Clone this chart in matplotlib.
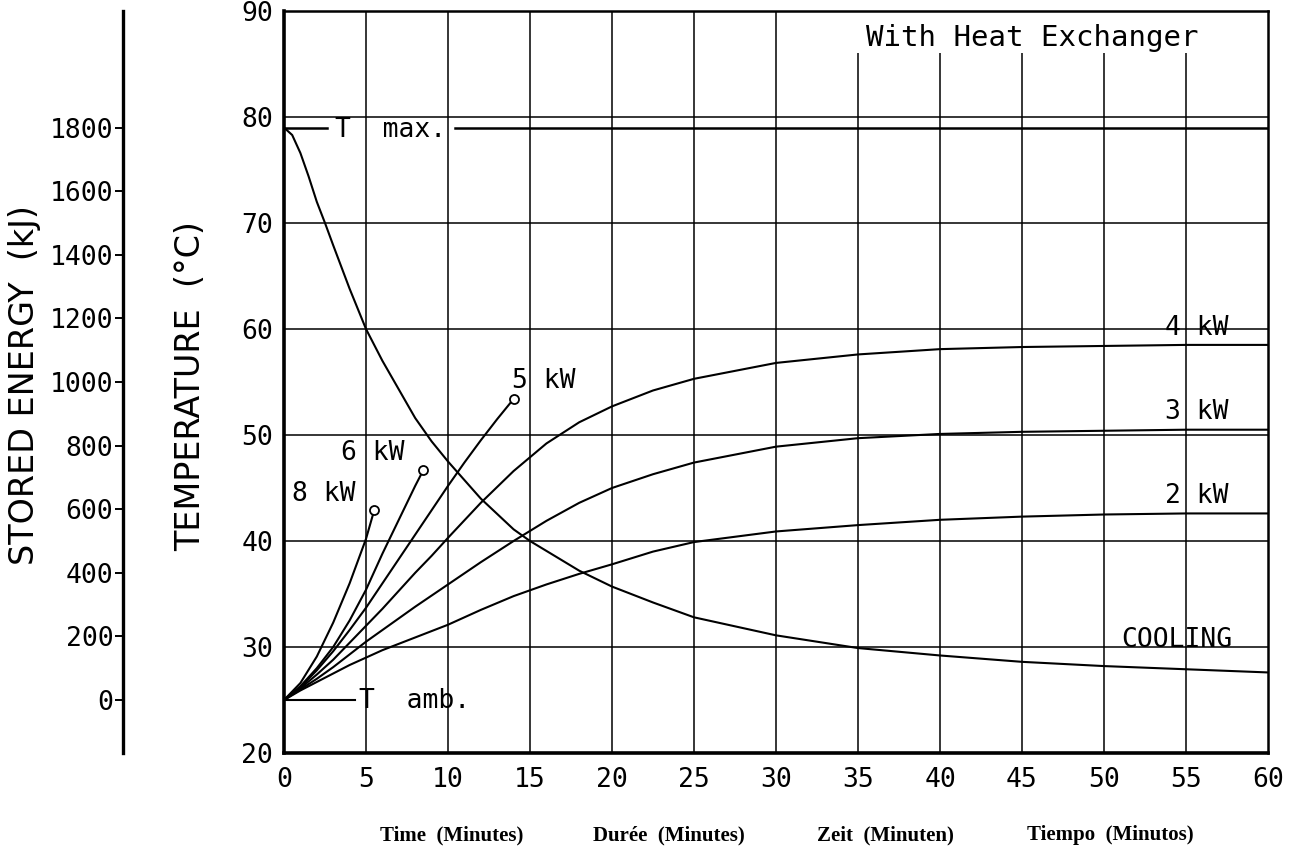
import matplotlib
matplotlib.use("Agg")
import matplotlib.pyplot as plt

# ---------------- data ----------------
time_cool = [0, 0.5, 1, 1.5, 2, 2.5, 3, 4, 5, 6, 7, 8, 9, 10, 12, 14, 15, 18, 20, 22.5, 25, 30, 35, 40, 45, 50, 55, 60]
temp_cool = [79, 78.3, 76.6, 74.4, 72.0, 70.0, 67.9, 63.8, 60.0, 57.0, 54.3, 51.6, 49.4, 47.5, 44.0, 41.1, 40.0, 37.2, 35.7, 34.2, 32.8, 31.1, 29.9, 29.2, 28.6, 28.2, 27.9, 27.6]

time_8kw = [0, 1, 2, 3, 4, 5, 5.5]
temp_8kw = [25, 26.6, 29.1, 32.3, 36.0, 40.2, 42.9]

time_6kw = [0, 1, 2, 3, 4, 5, 6, 7, 8, 8.5]
temp_6kw = [25, 26.3, 28.0, 30.0, 32.5, 35.4, 38.8, 42.0, 45.2, 46.7]

time_5kw = [0, 1, 2, 3, 4, 5, 6, 7, 8, 9, 10, 11, 12, 13, 14]
temp_5kw = [25, 26.2, 27.8, 29.6, 31.6, 33.7, 36.0, 38.3, 40.6, 42.9, 45.2, 47.4, 49.5, 51.5, 53.4]

time_4kw = [0, 1, 2, 3, 4, 5, 6, 7, 8, 9, 10, 12, 14, 16, 18, 20, 22.5, 25, 30, 35, 40, 45, 50, 55, 60]
temp_4kw = [25, 26.1, 27.4, 28.8, 30.4, 32.0, 33.6, 35.3, 37.0, 38.6, 40.3, 43.6, 46.6, 49.2, 51.2, 52.7, 54.2, 55.3, 56.8, 57.6, 58.1, 58.3, 58.4, 58.5, 58.5]

time_3kw = [0, 1, 2, 3, 4, 5, 6, 7, 8, 10, 12, 14, 16, 18, 20, 22.5, 25, 30, 35, 40, 45, 50, 55, 60]
temp_3kw = [25, 26.0, 27.0, 28.1, 29.3, 30.5, 31.6, 32.7, 33.8, 35.9, 38.0, 40.0, 41.9, 43.6, 45.0, 46.3, 47.4, 48.9, 49.7, 50.1, 50.3, 50.4, 50.5, 50.5]

time_2kw = [0, 1, 2, 3, 4, 5, 6, 7, 8, 10, 12, 14, 16, 18, 20, 22.5, 25, 30, 35, 40, 45, 50, 55, 60]
temp_2kw = [25, 25.9, 26.7, 27.5, 28.3, 29.0, 29.7, 30.3, 30.9, 32.1, 33.5, 34.8, 35.9, 36.9, 37.8, 39.0, 39.9, 40.9, 41.5, 42.0, 42.3, 42.5, 42.6, 42.6]

T_MAX = 79
T_AMB = 25
E_AT_TMAX = 1800  # kJ stored between T amb and T max

x_ticks = [0, 5, 10, 15, 20, 25, 30, 35, 40, 45, 50, 55, 60]
y_ticks = [20, 30, 40, 50, 60, 70, 80, 90]
e_ticks = [0, 200, 400, 600, 800, 1000, 1200, 1400, 1600, 1800]

bottom_labels = ["Time  (Minutes)", "Durée  (Minutes)", "Zeit  (Minuten)", "Tiempo  (Minutos)"]

# ---------------- figure ----------------
W, H = 1294, 848
fig = plt.figure(figsize=(W / 100, H / 100), dpi=100)
fig.patch.set_facecolor("white")

L, R, T, B = 284, 1268, 11, 753
ax = fig.add_axes([L / W, 1 - B / H, (R - L) / W, (B - T) / H])
ax.set_xlim(0, 60)
ax.set_ylim(20, 90)

mono = "DejaVu Sans Mono"
tick_fs = 19

# grid
for y in y_ticks[1:-1]:
    ax.axhline(y, color="black", lw=1.1, zorder=1)
for x in x_ticks[1:-1]:
    if 35 <= x <= 55:
        ax.vlines(x, 20, 86, color="black", lw=1.1, zorder=1)
    else:
        ax.axvline(x, color="black", lw=1.1, zorder=1)

# reference lines
ax.plot([0, 2.6], [T_MAX, T_MAX], color="black", lw=1.8)
ax.plot([10.4, 60], [T_MAX, T_MAX], color="black", lw=1.8)
ax.plot([0, 4.3], [T_AMB, T_AMB], color="black", lw=1.5)

# curves
curve_kw = dict(color="black", lw=1.5, zorder=3)
ax.plot(time_cool, temp_cool, **curve_kw)
ax.plot(time_2kw, temp_2kw, **curve_kw)
ax.plot(time_3kw, temp_3kw, **curve_kw)
ax.plot(time_4kw, temp_4kw, **curve_kw)
ax.plot(time_5kw, temp_5kw, **curve_kw)
ax.plot(time_6kw, temp_6kw, **curve_kw)
ax.plot(time_8kw, temp_8kw, **curve_kw)

# end markers
for tt, vv in [(time_5kw, temp_5kw), (time_6kw, temp_6kw), (time_8kw, temp_8kw)]:
    ax.plot(tt[-1], vv[-1], marker="o", ms=6.5, mfc="white", mec="black", mew=1.3, zorder=4)

# labels in plot
lab = dict(family=mono, fontsize=tick_fs, color="black", zorder=5)
ax.text(57.6, 59.4, "4 kW", ha="right", va="baseline", **lab)
ax.text(57.6, 51.5, "3 kW", ha="right", va="baseline", **lab)
ax.text(57.6, 43.6, "2 kW", ha="right", va="baseline", **lab)
ax.text(57.8, 30.0, "COOLING", ha="right", va="baseline", **lab)
ax.text(13.9, 54.4, "5 kW", ha="left", va="baseline", **lab)
ax.text(3.45, 47.6, "6 kW", ha="left", va="baseline", **lab)
ax.text(0.5, 43.75, "8 kW", ha="left", va="baseline", **lab)
ax.text(3.1, 78.1, "T  max.", ha="left", va="baseline", **lab)
ax.text(4.6, 24.2, "T  amb.", ha="left", va="baseline", **lab)
ax.text(45.6, 87.5, "With Heat Exchanger", ha="center", va="center",
        family=mono, fontsize=21, color="black")

# ticks
ax.set_xticks(x_ticks)
ax.set_yticks(y_ticks)
ax.set_xticklabels([str(v) for v in x_ticks], family=mono, fontsize=tick_fs)
ax.set_yticklabels([str(v) for v in y_ticks], family=mono, fontsize=tick_fs)
ax.tick_params(axis="x", length=0, pad=10)
ax.tick_params(axis="y", length=0, pad=8)

for side, lw in [("left", 2.6), ("bottom", 2.6), ("top", 1.8), ("right", 1.8)]:
    ax.spines[side].set_linewidth(lw)
    ax.spines[side].set_color("black")

# secondary energy axis
e_per_deg = E_AT_TMAX / (T_MAX - T_AMB)
ax2 = fig.add_axes([123 / W, 1 - B / H, 0.001, (B - T) / H])
ax2.set_ylim((20 - T_AMB) * e_per_deg, (90 - T_AMB) * e_per_deg)
ax2.set_xticks([])
for side in ["top", "right", "bottom"]:
    ax2.spines[side].set_visible(False)
ax2.spines["left"].set_linewidth(2.4)
ax2.set_yticks(e_ticks)
ax2.set_yticklabels([str(v) for v in e_ticks], family=mono, fontsize=tick_fs)
ax2.tick_params(axis="y", length=6, width=1.4, pad=1)
ax2.patch.set_visible(False)

# axis titles
fig.text(25 / W, 1 - 385 / H, "STORED ENERGY  (kJ)", rotation=90, ha="center", va="center",
         family="DejaVu Sans", fontsize=24, color="black")
fig.text(191 / W, 1 - 386 / H, "TEMPERATURE  (°C)", rotation=90, ha="center", va="center",
         family="DejaVu Sans", fontsize=24, color="black")

# multilingual x labels
for xc, s in zip([452, 669, 885, 1110], bottom_labels):
    fig.text(xc / W, 1 - 835 / H, s, ha="center", va="center",
             family="Liberation Serif", fontweight="bold", fontsize=15, color="black")

fig.savefig("out.png", dpi=100, facecolor="white")
